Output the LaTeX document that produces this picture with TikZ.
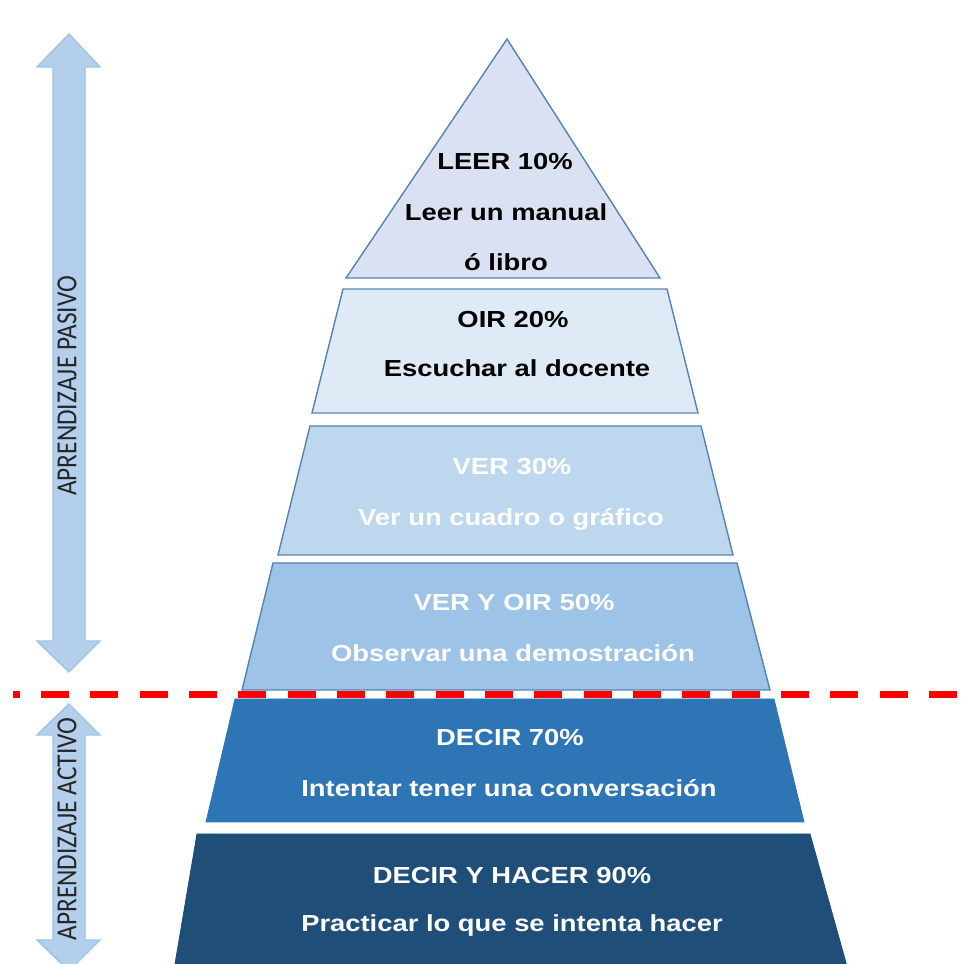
\documentclass[tikz,border=0pt]{standalone}
\usepackage{fontspec}
\setmainfont{Liberation Sans}
\newfontfamily\sidefont{Carlito}
\usetikzlibrary{calc,positioning}
\definecolor{edgeblue}{HTML}{5583B3}
\definecolor{arrowfill}{HTML}{B4CFEC}
\definecolor{arrowedge}{HTML}{9DC3E6}
\definecolor{lvlA}{HTML}{D9E1F2}
\definecolor{lvlB}{HTML}{DEEBF7}
\definecolor{lvlC}{HTML}{BDD7EE}
\definecolor{lvlD}{HTML}{9DC3E6}
\definecolor{lvlE}{HTML}{2E75B6}
\definecolor{lvlF}{HTML}{1F4E79}
\newcommand\wide[1]{\scalebox{1.18}[1]{#1}}
\newcommand\tall[1]{\scalebox{1}[1.15]{#1}}

\begin{document}
\begin{tikzpicture}[x=0.025cm,y=-0.025cm,
  layer/.style={draw=edgeblue,line width=1pt},
  darklayer/.style={draw=#1,fill=#1,line width=0.6pt},
  lbl/.style={font=\fontsize{16.5}{19}\selectfont\bfseries,inner sep=0pt},
  side/.style={rotate=90,font=\sidefont\fontsize{18}{20}\selectfont,text=black!85,inner sep=0pt},
  arrowbox/.style={draw=arrowedge,fill=arrowfill,line width=1pt},
  cutline/.style={red,line width=0.175cm,dash pattern=on 0.7cm off 0.533cm,dash phase=0.533cm}]
  \useasboundingbox (0,0) rectangle (976,964);

  % side arrows
  \draw[arrowbox] (69,34) -- (100,67) -- (85,67) -- (85,641) -- (100,641) -- (69,672)
    -- (37,641) -- (53,641) -- (53,67) -- (37,67) -- cycle;
  \draw[arrowbox] (69,704) -- (100,735) -- (85,735) -- (85,940) -- (100,940) -- (69,971)
    -- (37,940) -- (53,940) -- (53,735) -- (37,735) -- cycle;
  \node[side] (pasivo) at (67,386) {\tall{APRENDIZAJE PASIVO}};
  \node[side] (activo) at (67,829) {\tall{APRENDIZAJE ACTIVO}};

  % pyramid
  \draw[layer,fill=lvlA] (507,39) -- (660,278) -- (346,278) -- cycle;
  \draw[layer,fill=lvlB] (343,289) -- (667,289) -- (698,413) -- (312,413) -- cycle;
  \draw[layer,fill=lvlC] (310,426) -- (701,426) -- (733,555) -- (278,555) -- cycle;
  \draw[layer,fill=lvlD] (273,563) -- (737,563) -- (770,690) -- (242,690) -- cycle;
  \draw[darklayer=lvlE] (235,699) -- (774,699) -- (804,822) -- (206,822) -- cycle;
  \draw[darklayer=lvlF] (197,834) -- (810,834) -- (848,970) -- (174,970) -- cycle;

  \node[lbl] (leer) at (505,162) {\wide{LEER 10\%}};
  \node[lbl] (manual) at (506,212) {\wide{Leer un manual}};
  \node[lbl] (libro) at (506,262) {\wide{ó libro}};
  \node[lbl] (oir) at (513,320) {\wide{OIR 20\%}};
  \node[lbl] (docente) at (517,368) {\wide{Escuchar al docente}};
  \node[lbl,white] (ver) at (512,467) {\wide{VER 30\%}};
  \node[lbl,white] (cuadro) at (511,519) {\wide{Ver un cuadro o gráfico}};
  \node[lbl,white] (veroir) at (514,603) {\wide{VER Y OIR 50\%}};
  \node[lbl,white] (demo) at (513,653) {\wide{Observar una demostración}};
  \node[lbl,white] (decir) at (510,738) {\wide{DECIR 70\%}};
  \node[lbl,white] (conversa) at (509,788) {\wide{Intentar tener una conversación}};
  \node[lbl,white] (hacer) at (512,876) {\wide{DECIR Y HACER 90\%}};
  \node[lbl,white] (practica) at (512,926) {\wide{Practicar lo que se intenta hacer}};

  % division pasivo / activo
  \coordinate (cutL) at (13,695);
  \coordinate (cutR) at (957,695);
  \draw[cutline] (cutL) -- (cutR);
\end{tikzpicture}
\end{document}
